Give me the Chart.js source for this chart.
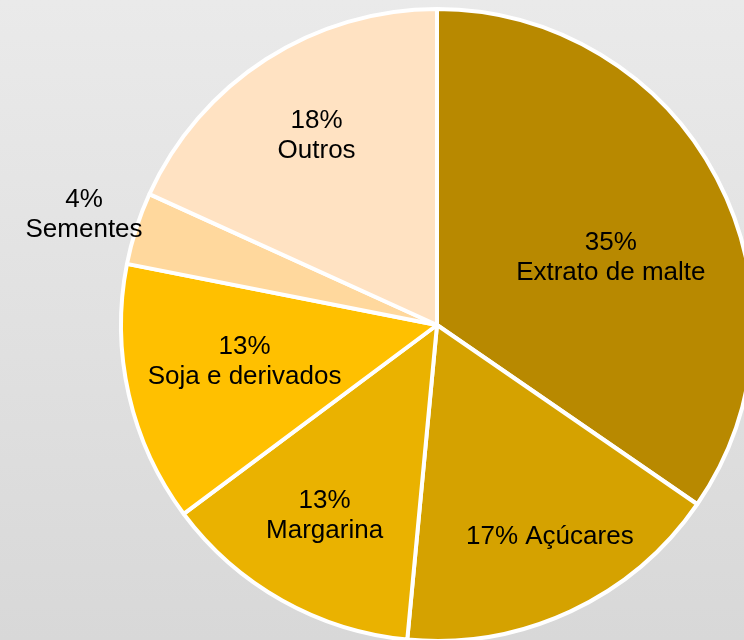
<!DOCTYPE html>
<html>
<head>
<meta charset="utf-8">
<script src="https://cdn.jsdelivr.net/npm/chart.js@4"></script>
<style>
    html, body {
        margin: 0;
        padding: 0;
        width: 744px;
        height: 640px;
        overflow: hidden;
        background: linear-gradient(to bottom, #eaeaea 0%, #d8d8d8 100%);
    }
    #wrap {
        position: absolute;
        left: 0;
        top: 0;
        width: 760px;
        height: 660px;
    }
</style>
</head>
<body>
<div id="wrap"><canvas id="pieChart"></canvas></div>
<script>
// Chart data (shares in %, labels show them rounded)
const categories = ['Extrato de malte', 'Açúcares', 'Margarina', 'Soja e derivados', 'Sementes', 'Outros'];
const shares = [34.6, 16.9, 13.3, 13.3, 3.7, 18.2];
const sliceColors = ['#b88900', '#d5a200', '#eab200', '#ffc000', '#ffd89d', '#ffe2c2'];

// label placement per slice: radius fraction and angle shift (deg)
const labelRadius = [0.59, 0.76, 0.70, 0.62, 1.17, 0.71];
const labelShift = [6.5, -3, 1.2, 2, -0.5, 0.3];
const singleLine = [false, true, false, false, false, false];

// Simple inline plugin for slice labels (no datalabels plugin available)
const sliceLabels = {
    id: 'sliceLabels',
    afterDatasetsDraw(chart) {
        const ctx = chart.ctx;
        const meta = chart.getDatasetMeta(0);
        const total = shares.reduce((a, b) => a + b, 0);
        ctx.save();
        ctx.fillStyle = '#000';
        ctx.font = '26px "Liberation Sans", Arial, sans-serif';
        ctx.textAlign = 'center';
        ctx.textBaseline = 'middle';
        meta.data.forEach(function(arc, i) {
            const p = arc.getProps(['x', 'y', 'startAngle', 'endAngle', 'outerRadius'], true);
            const mid = (p.startAngle + p.endAngle) / 2 + labelShift[i] * Math.PI / 180;
            const r = p.outerRadius * labelRadius[i];
            const x = p.x + Math.cos(mid) * r;
            const y = p.y + Math.sin(mid) * r;
            const pct = Math.round(shares[i] / total * 100) + '%';
            if (singleLine[i]) {
                ctx.fillText(pct + ' ' + categories[i], x, y);
            } else {
                ctx.fillText(pct, x, y - 15);
                ctx.fillText(categories[i], x, y + 15);
            }
        });
        ctx.restore();
    }
};

new Chart(document.getElementById('pieChart'), {
    type: 'pie',
    data: {
        labels: categories,
        datasets: [{
            data: shares,
            backgroundColor: sliceColors,
            borderColor: '#ffffff',
            borderWidth: 4
        }]
    },
    options: {
        responsive: true,
        maintainAspectRatio: false,
        animation: false,
        layout: {
            padding: { left: 119, top: 7, right: 5, bottom: 17 }
        },
        plugins: {
            legend: { display: false },
            tooltip: { enabled: false }
        }
    },
    plugins: [sliceLabels]
});
</script>
</body>
</html>
